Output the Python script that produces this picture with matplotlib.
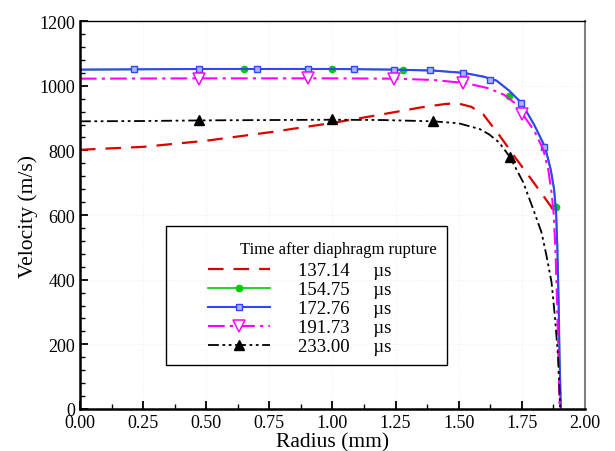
import numpy as np
import matplotlib
matplotlib.use("Agg")
import matplotlib.pyplot as plt
from matplotlib.patches import Rectangle
from matplotlib.ticker import MultipleLocator

plt.rcParams['font.family'] = ['Liberation Serif', 'DejaVu Serif']

# velocity profiles (radius mm, velocity m/s)
r_137 = [0, 0.25, 0.5, 0.75, 1.0, 1.2, 1.35, 1.45, 1.5, 1.55, 1.597, 1.663, 1.729, 1.782, 1.835, 1.868, 1.875]
v_137 = [802, 811, 830, 856, 885, 912, 933, 944, 945, 935, 912, 845, 773, 717, 660, 624, 612]

r_155 = [0, 0.25, 0.5, 0.75, 1.0, 1.25, 1.4, 1.52, 1.6, 1.65, 1.7, 1.75, 1.8, 1.842, 1.865, 1.878, 1.886, 1.891, 1.896, 1.9, 1.905]
v_155 = [1050, 1051, 1052, 1052, 1052, 1050, 1047, 1040, 1028, 1016, 985, 946, 878, 811, 740, 680, 610, 500, 330, 150, 0]

r_173 = [0, 0.25, 0.5, 0.75, 1.0, 1.25, 1.4, 1.52, 1.6, 1.65, 1.7, 1.75, 1.8, 1.842, 1.865, 1.878, 1.886, 1.891, 1.896, 1.9, 1.905]
v_173 = [1050, 1051, 1052, 1052, 1052, 1050, 1047, 1040, 1028, 1016, 985, 946, 878, 811, 740, 680, 610, 500, 330, 150, 0]

r_192 = [0, 0.5, 1.0, 1.25, 1.4, 1.53, 1.62, 1.68, 1.72, 1.76, 1.8, 1.835, 1.855, 1.868, 1.877, 1.884, 1.89, 1.895, 1.9]
v_192 = [1022, 1023, 1023, 1022, 1018, 1008, 992, 972, 948, 905, 860, 804, 740, 670, 600, 480, 330, 170, 0]

r_233 = [0, 0.25, 0.5, 0.75, 1.0, 1.2, 1.4, 1.5, 1.584, 1.62, 1.66, 1.703, 1.756, 1.795, 1.828, 1.848, 1.868, 1.881, 1.894, 1.899, 1.902]
v_233 = [890, 891, 893, 894, 895, 894, 890, 884, 866, 850, 825, 780, 701, 619, 547, 474, 392, 289, 160, 70, 0]

# symbol positions
mr_155 = [0.65, 1.0, 1.28, 1.70, 1.884]
mv_155 = [1052, 1052, 1050, 969, 626]
mr_173 = [0.215, 0.473, 0.702, 0.904, 1.085, 1.245, 1.386, 1.516, 1.626, 1.749, 1.84]
mv_173 = [1051, 1052, 1052, 1052, 1052, 1050, 1048, 1040, 1019, 946, 811]
mr_192 = [0.473, 0.904, 1.245, 1.516, 1.75]
mv_192 = [1022, 1023, 1021, 1009, 912]
mr_233 = [0.473, 0.997, 1.40, 1.703]
mv_233 = [895, 896, 891, 780]

labels = ['137.14     \u00b5s', '154.75     \u00b5s', '172.76     \u00b5s',
          '191.73     \u00b5s', '233.00     \u00b5s']

fig = plt.figure(figsize=(6.15, 4.52), dpi=100)
ax = fig.add_axes([0.130, 0.093, 0.821, 0.858])

ax.grid(True, which='major', color='#f0f0f0', linestyle=':', linewidth=0.8)
ax.set_axisbelow(True)

l1, = ax.plot(r_137, v_137, color='#dd0000', lw=1.6, dashes=(7, 4.5))

l2, = ax.plot(r_155, v_155, color='#00cc00', lw=1.2)
m2, = ax.plot(mr_155, mv_155, ls='none', marker='o', ms=4.5, color='#00cc00')

l3, = ax.plot(r_173, v_173, color='#3344ff', lw=1.5)
m3, = ax.plot(mr_173, mv_173, ls='none', marker='s', ms=4.5, mfc='#aab4ff',
              mec='#3344ff', mew=1.0)

l4, = ax.plot(r_192, v_192, color='#ff00ff', lw=1.5, dashes=(8, 2.5, 1.5, 2.5))
m4, = ax.plot(mr_192, mv_192, ls='none', marker='v', ms=8, mfc='white',
              mec='#ff00ff', mew=1.1)

l5, = ax.plot(r_233, v_233, color='black', lw=1.3, dashes=(6, 2, 1.5, 2, 1.5, 2))
m5, = ax.plot(mr_233, mv_233, ls='none', marker='^', ms=6.5, color='black')

ax.set_xlim(0, 2.0)
ax.set_ylim(0, 1200)
ax.xaxis.set_major_locator(MultipleLocator(0.25))
ax.xaxis.set_minor_locator(MultipleLocator(0.125))
ax.yaxis.set_major_locator(MultipleLocator(200))
ax.yaxis.set_minor_locator(MultipleLocator(40))
ax.xaxis.set_major_formatter(plt.FormatStrFormatter('%.2f'))
ax.tick_params(which='both', direction='in', top=False, right=False, labelsize=13)
ax.tick_params(which='major', length=6, width=1.3)
ax.tick_params(which='minor', length=3.5, width=1.0)

ax.spines['left'].set_linewidth(1.8)
ax.spines['bottom'].set_linewidth(1.8)
ax.spines['top'].set_linewidth(1.0)
ax.spines['right'].set_linewidth(1.5)
ax.spines['right'].set_color('#808080')

ax.set_xlabel('Radius (mm)', fontsize=15.5, labelpad=1)
ax.set_ylabel('Velocity (m/s)', fontsize=15.5, labelpad=1)

# legend frame and title
ax.add_patch(Rectangle((0.170, 0.1134), 0.557, 0.358, transform=ax.transAxes,
                       fill=False, edgecolor='black', lw=1.0, zorder=5))
ax.text(0.317, 0.412, 'Time after diaphragm rupture', transform=ax.transAxes,
        fontsize=12, va='center', ha='left', zorder=6)
leg = ax.legend([l1, (l2, m2), (l3, m3), (l4, m4), (l5, m5)], labels,
                loc='upper left', bbox_to_anchor=(0.2535, 0.378), frameon=False,
                borderpad=0, borderaxespad=0, fontsize=13.5, handlelength=3.3,
                handletextpad=1.5, labelspacing=0.1)

plt.savefig('out.png', dpi=100)
